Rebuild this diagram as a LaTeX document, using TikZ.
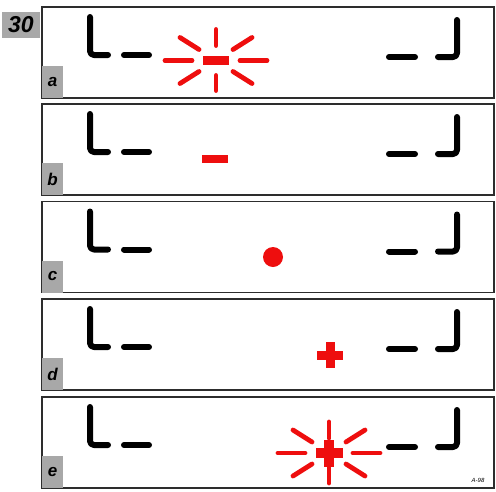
\documentclass[tikz,border=0pt]{standalone}
\usepackage{fontspec}
\setsansfont{Liberation Sans}
\usetikzlibrary{positioning}
\definecolor{ledred}{RGB}{238,14,14}
\definecolor{tabgray}{RGB}{168,168,168}
\definecolor{framegray}{RGB}{45,45,45}
% eight rays round a blinking mark: #1 = x, #2 = y of its centre
\newcommand{\flashrays}[2]{%
  \foreach \ax/\ay/\bx/\by in {24/0/51/0, -24/0/-51/0, 0/-15/0/-31, 0/15/0/30,
                               17/11/36/23, -17/11/-36/23, 17/-11/36/-23, -17/-11/-36/-23}
    \draw[ray] (#1+\ax,#2+\ay) -- (#1+\bx,#2+\by);
}
\tikzset{
  panel/.style={draw=framegray, line width=1.3pt, minimum width=452pt, minimum height=91pt,
    inner sep=0pt, outer sep=0pt},
  tab/.style={fill=tabgray, inner sep=0pt, outer sep=0pt, minimum width=21pt, minimum height=32pt,
    font=\sffamily\bfseries\itshape\fontsize{17}{17}\selectfont},
  seg/.style={line width=6pt, line cap=round, line join=round, rounded corners=4pt},
  ray/.style={draw=ledred, line width=4.8pt, line cap=round},
  dashmark/.style={fill=ledred, inner sep=0pt, minimum width=26pt, minimum height=8.5pt},
}

\begin{document}
\begin{tikzpicture}[x=1pt, y=-1pt]

\fill[white] (0,0) rectangle (496,491);
\useasboundingbox (0,0) rectangle (496,491);

\node[tab, anchor=north west, minimum width=38pt, minimum height=26pt,
  font=\sffamily\bfseries\itshape\fontsize{23}{23}\selectfont] (num) at (2,12) {30};

\foreach \l/\t in {a/7, b/104, c/201.5, d/299, e/397} {
  \node[panel] (panel-\l) at (268,\t+45.5) {};
  \node[tab, anchor=south west] (tab-\l) at (panel-\l.south west) {\l};
  % bracket left
  \draw[seg] (90,\t+10) -- (90,\t+48) -- (108,\t+48);
  \draw[seg] (124,\t+48) -- (149,\t+48);
  % bracket right
  \draw[seg] (389,\t+50) -- (415,\t+50);
  \draw[seg] (438,\t+50) -- (457,\t+50) -- (457,\t+13);
}

% a: blinking minus
\flashrays{216}{60.5}
\node[dashmark] (mark-a) at (216,60.5) {};

% b: minus
\node[dashmark] (mark-b) at (215,159) {};

% c: dot
\node[circle, fill=ledred, inner sep=0pt, minimum size=20pt] (mark-c) at (273,257) {};

% d: plus
\node[dashmark, minimum height=9pt] (mark-d) at (330,355) {};
\node[dashmark, minimum height=9pt, rotate=90] (mark-d2) at (330,355) {};

% e: blinking plus
\flashrays{329}{453}
\node[dashmark, minimum width=27pt, minimum height=10pt] (mark-e) at (329,453) {};
\node[dashmark, minimum width=27pt, minimum height=10pt, rotate=90] (mark-e2) at (329,453) {};

\node[font=\sffamily\itshape\fontsize{6}{6}\selectfont] (code) at (478,480) {A-98};

\end{tikzpicture}
\end{document}
